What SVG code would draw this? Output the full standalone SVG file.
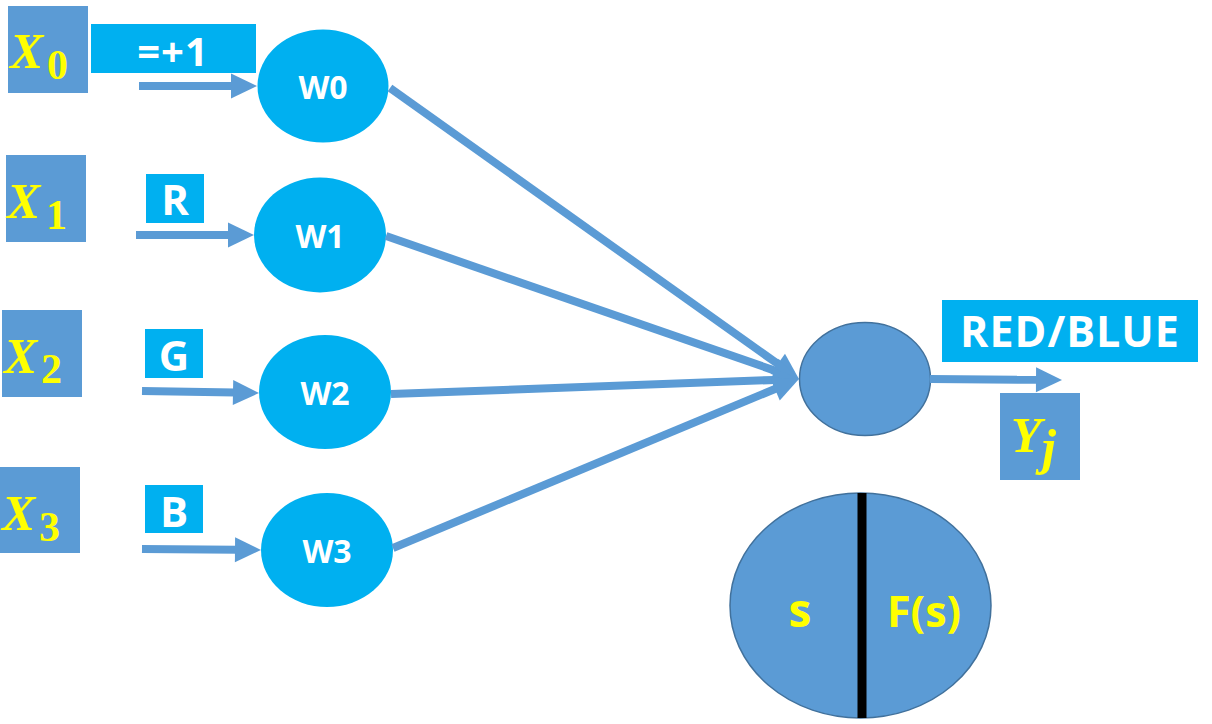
<svg xmlns="http://www.w3.org/2000/svg" width="1212" height="724" viewBox="0 0 1212 724">
<defs>
<marker id="ah" markerUnits="userSpaceOnUse" markerWidth="26" markerHeight="26" refX="2" refY="12.5" orient="auto" overflow="visible">
<path d="M0,0 L26,12.5 L0,25 z" fill="#5B9BD5"/>
</marker>
</defs>
<style>
.in{fill:#5B9BD5}
.lab{fill:#00B0F0}
.xv{font-family:"Liberation Serif",serif;font-weight:bold;font-style:italic;font-size:50px;fill:#FFFF00}
.xs{font-family:"Liberation Serif",serif;font-weight:bold;font-size:42px;fill:#FFFF00}
.lt{font-family:"Open Sans","Liberation Sans",sans-serif;font-weight:bold;fill:#FFFFFF;text-anchor:middle}
.wn{fill:#00B0F0}
.on{fill:#5B9BD5;stroke:#41719C;stroke-width:1.5}
.yt{font-family:"Open Sans","Liberation Sans",sans-serif;font-weight:bold;fill:#FFFF00}
.cn{stroke:#5B9BD5;stroke-width:8;fill:none;marker-end:url(#ah)}
</style>
<rect width="1212" height="724" fill="#FFFFFF"/>
<g id="x0"><rect class="in" x="8" y="6" width="80" height="87"/><text class="xv" x="10" y="68">X</text><text class="xs" x="47" y="79">0</text></g>
<g id="x1"><rect class="in" x="6" y="155" width="80" height="87"/><text class="xv" x="7" y="218">X</text><text class="xs" x="46" y="229">1</text></g>
<g id="x2"><rect class="in" x="2" y="310" width="80" height="87"/><text class="xv" x="4" y="373">X</text><text class="xs" x="41" y="383">2</text></g>
<g id="x3"><rect class="in" x="0" y="467" width="80" height="86"/><text class="xv" x="2" y="530">X</text><text class="xs" x="39" y="541">3</text></g>
<g id="l0"><rect class="lab" x="91" y="24" width="165" height="49"/><text class="lt" x="173" y="66" font-size="40" letter-spacing="1">=+1</text></g>
<g id="lR"><rect class="lab" x="146" y="174" width="58" height="49"/><text class="lt" x="175" y="215" font-size="42">R</text></g>
<g id="lG"><rect class="lab" x="145" y="329" width="58" height="49"/><text class="lt" x="174" y="371" font-size="42">G</text></g>
<g id="lB"><rect class="lab" x="145" y="485" width="58" height="48"/><text class="lt" x="174" y="527" font-size="42">B</text></g>
<g id="w0"><ellipse class="wn" cx="323" cy="86" rx="65.5" ry="56.5"/><text class="lt" x="323" y="99" font-size="32">W0</text></g>
<g id="w1"><ellipse class="wn" cx="320" cy="235" rx="66" ry="57.5"/><text class="lt" x="320" y="248" font-size="32">W1</text></g>
<g id="w2"><ellipse class="wn" cx="325" cy="392" rx="66" ry="57"/><text class="lt" x="325" y="405" font-size="32">W2</text></g>
<g id="w3"><ellipse class="wn" cx="327" cy="550" rx="66" ry="57"/><text class="lt" x="327" y="563" font-size="32">W3</text></g>
<g id="out"><ellipse class="on" cx="865" cy="379" rx="65.5" ry="56.5"/></g>
<g id="lout"><rect class="lab" x="942" y="300" width="256" height="62"/><text class="lt" x="1070" y="347" font-size="43" letter-spacing="1">RED/BLUE</text></g>
<g id="yj"><rect class="in" x="1000" y="393" width="80" height="87"/><text class="xv" x="1011" y="452">Y</text><text class="xv" x="1042" y="464" font-size="40">j</text></g>
<g id="act"><ellipse class="on" cx="860.5" cy="605.5" rx="130.5" ry="112.5"/><line x1="862" y1="493" x2="862" y2="718" stroke="#000000" stroke-width="9"/><text class="yt" x="800" y="627" font-size="46" text-anchor="middle">s</text><text class="yt" x="887" y="627" font-size="43">F(s)</text></g>
<g id="connectors">
<path class="cn" d="M139,86 L233,86"/>
<path class="cn" d="M136,235 L230,235"/>
<path class="cn" d="M142,391 L235,392.6"/>
<path class="cn" d="M142,549 L237,549.8"/>
<path class="cn" d="M390,88 L779.4,365.1"/>
<path class="cn" d="M386,236 L776.3,371.1"/>
<path class="cn" d="M391,394 L775,379.9"/>
<path class="cn" d="M393,548 L776.8,388.2"/>
<path class="cn" d="M930,379 L1038,379.8"/>
</g>
</svg>
